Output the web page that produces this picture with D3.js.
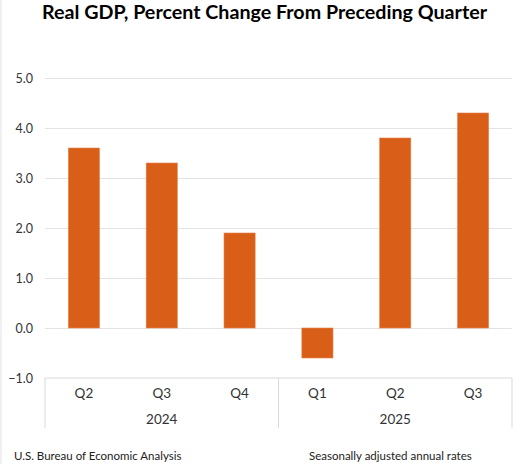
<!DOCTYPE html>
<html><head><meta charset="utf-8">
<script src="https://cdn.jsdelivr.net/npm/d3@7"></script>
<style>html,body{margin:0;padding:0;background:#fff;overflow:hidden}</style>
</head><body>
<svg id="c" width="520" height="464"></svg>
<script>
const quarters = ["Q2","Q3","Q4","Q1","Q2","Q3"];
const years = ["2024","2024","2024","2025","2025","2025"];
const values = [3.6, 3.3, 1.9, -0.6, 3.8, 4.3];
const yTicks = [-1, 0, 1, 2, 3, 4, 5];
const yearGroups = ["2024","2025"];

(function(){
const svg = d3.select("#c");
const font = "Lato, 'Open Sans', sans-serif";
const pL = 45, pR = 512, pT = 78, pB = 378;
const idx = d3.range(values.length);
const x = d3.scaleBand().domain(idx).range([pL, pR]).paddingInner(0.6).paddingOuter(0.3);
const y = d3.scaleLinear().domain([-1, 5]).range([pB, pT]);

svg.append("rect").attr("x",0).attr("y",0).attr("width",2).attr("height",464).attr("fill","#f0f0f0");

svg.append("text").attr("x", 42).attr("y", 18.5)
  .attr("textLength", 445).attr("lengthAdjust","spacingAndGlyphs")
  .attr("font-family", font).attr("font-weight","bold").attr("font-size", 19.5).attr("fill","#000")
  .text("Real GDP, Percent Change From Preceding Quarter");

const yAxis = d3.axisLeft(y).tickValues(yTicks).tickFormat(d3.format(".1f")).tickSize(-(pR-pL)).tickPadding(12);
const gy = svg.append("g").attr("transform", `translate(${pL},0)`).call(yAxis);
gy.select(".domain").remove();
gy.selectAll(".tick line").attr("stroke","#e3e3e3").attr("stroke-width",1);
gy.selectAll(".tick text").attr("font-family", font).attr("font-size", 12.5).attr("fill","#333");
gy.selectAll(".tick").filter(d => d === -1).select("line").remove();

svg.append("g").selectAll("rect").data(idx).join("rect")
  .attr("x", i => x(i)).attr("width", x.bandwidth())
  .attr("y", i => y(Math.max(0, values[i])))
  .attr("height", i => Math.abs(y(values[i]) - y(0)))
  .attr("fill", "#D95F19").attr("stroke","#E4834A").attr("stroke-width",0.6);

const axisColor = "#d9d9d9";
const boxBottom = 428;
const g = svg.append("g");
g.append("line").attr("x1", pL).attr("x2", pR).attr("y1", pB).attr("y2", pB).attr("stroke", axisColor);
const sepX = [pL, pL + 3*(pR-pL)/6, pR];
sepX.forEach(sx => g.append("line").attr("x1", sx).attr("x2", sx).attr("y1", pB).attr("y2", boxBottom).attr("stroke", axisColor));

g.selectAll("text.q").data(idx).join("text").attr("class","q")
  .attr("x", i => x(i) + x.bandwidth()/2).attr("y", 398).attr("text-anchor","middle")
  .attr("font-family", font).attr("font-size", 13.5).attr("fill","#333").text(i => quarters[i]);

yearGroups.forEach(yr => {
  const ids = idx.filter(i => years[i] === yr);
  const cx = d3.mean(ids, i => x(i) + x.bandwidth()/2);
  g.append("text").attr("x", cx).attr("y", 424).attr("text-anchor","middle")
    .attr("font-family", font).attr("font-size", 13.5).attr("fill","#333").text(yr);
});

svg.append("text").attr("x", 14).attr("y", 460).attr("font-family", font).attr("font-size", 11.5)
  .attr("fill","#222").text("U.S. Bureau of Economic Analysis");
svg.append("text").attr("x", 309).attr("y", 460).attr("font-family", font).attr("font-size", 11.5)
  .attr("fill","#222").text("Seasonally adjusted annual rates");
})();
</script>
</body></html>
